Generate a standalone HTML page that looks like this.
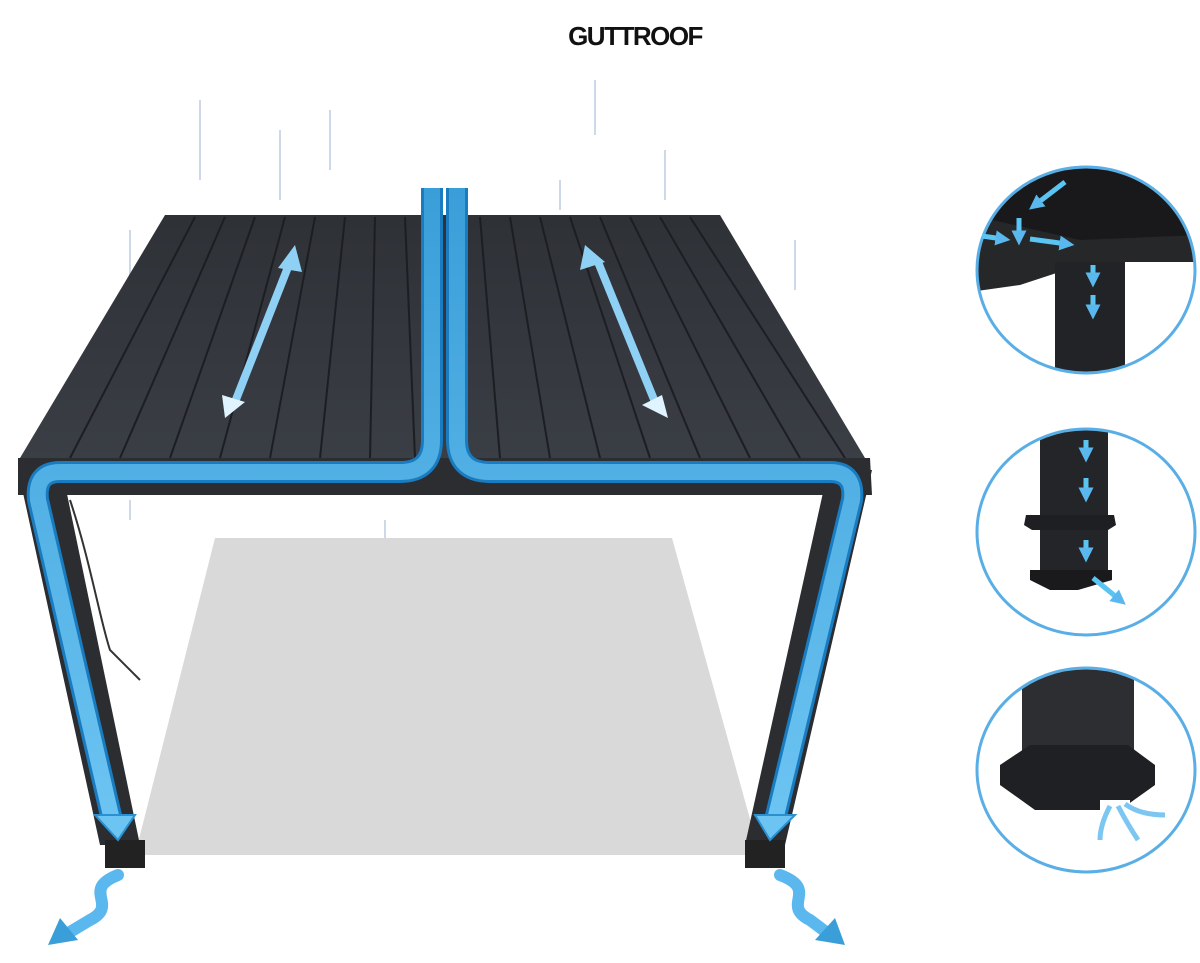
<!DOCTYPE html>
<html><head><meta charset="utf-8"><style>
html,body{margin:0;padding:0;background:#fff}
svg{display:block}
</style></head><body>
<svg width="1200" height="963" viewBox="0 0 1200 963" xmlns="http://www.w3.org/2000/svg">
<defs>
<linearGradient id="roof" x1="0" y1="0" x2="0" y2="1"><stop offset="0" stop-color="#2e3136"/><stop offset="1" stop-color="#3a3e45"/></linearGradient>
<linearGradient id="blue" x1="0" y1="0" x2="0" y2="1"><stop offset="0" stop-color="#3a9ed8"/><stop offset="1" stop-color="#6cc4f2"/></linearGradient>
<clipPath id="c1"><ellipse cx="1086" cy="270" rx="109" ry="103"/></clipPath>
<clipPath id="c2"><ellipse cx="1086" cy="532" rx="109" ry="103"/></clipPath>
<clipPath id="c3"><ellipse cx="1086" cy="770" rx="109" ry="102"/></clipPath>
<marker id="ah" viewBox="0 0 10 10" refX="5" refY="5" markerWidth="3" markerHeight="3" orient="auto"><path d="M0,0L10,5L0,10z" fill="#5ab8ee"/></marker>
</defs>
<text x="635" y="45" text-anchor="middle" font-family="Liberation Sans, sans-serif" font-weight="bold" font-size="26" letter-spacing="-1.5" fill="#111">GUTTROOF</text>
<g stroke="#b8c8e0" stroke-width="2" opacity="0.7">
<line x1="200" y1="100" x2="200" y2="180"/><line x1="330" y1="110" x2="330" y2="170"/><line x1="595" y1="80" x2="595" y2="135"/><line x1="280" y1="130" x2="280" y2="200"/><line x1="665" y1="150" x2="665" y2="200"/><line x1="560" y1="180" x2="560" y2="210"/><line x1="130" y1="230" x2="130" y2="290"/><line x1="795" y1="240" x2="795" y2="290"/><line x1="385" y1="520" x2="385" y2="560"/><line x1="130" y1="500" x2="130" y2="520"/>
</g>
<polygon points="215,538 672,538 760,855 135,855" fill="#d9d9d9"/>
<polygon points="165,215 720,215 865,458 20,458" fill="url(#roof)"/>
<g stroke="#1c1e22" stroke-width="2">
<line x1="195" y1="217" x2="70" y2="458"/><line x1="225" y1="217" x2="120" y2="458"/><line x1="255" y1="217" x2="170" y2="458"/><line x1="285" y1="217" x2="220" y2="458"/><line x1="315" y1="217" x2="270" y2="458"/><line x1="345" y1="217" x2="320" y2="458"/><line x1="375" y1="217" x2="370" y2="458"/><line x1="405" y1="217" x2="415" y2="458"/>
<line x1="480" y1="217" x2="500" y2="458"/><line x1="510" y1="217" x2="550" y2="458"/><line x1="540" y1="217" x2="600" y2="458"/><line x1="570" y1="217" x2="650" y2="458"/><line x1="600" y1="217" x2="700" y2="458"/><line x1="630" y1="217" x2="750" y2="458"/><line x1="660" y1="217" x2="800" y2="458"/><line x1="690" y1="217" x2="845" y2="458"/>
</g>
<polygon points="18,458 870,458 872,495 18,495" fill="#2b2d31"/>
<polygon points="18,470 62,470 140,845 100,845" fill="#2b2d31"/>
<polygon points="828,470 872,470 785,845 745,845" fill="#2b2d31"/>
<rect x="105" y="840" width="40" height="28" fill="#222"/>
<rect x="745" y="840" width="40" height="28" fill="#222"/>
<path d="M70,500 C90,560 100,620 110,650 L140,680" stroke="#333" stroke-width="2" fill="none"/>
<g fill="none" stroke="#1a7cc0" stroke-width="22" stroke-linejoin="round">
<path d="M432,188 L432,440 Q432,472 400,472 L60,472 Q35,472 38,500 L112,820"/>
<path d="M457,188 L457,440 Q457,472 490,472 L830,472 Q855,472 852,500 L775,820"/>
</g>
<g fill="none" stroke="url(#blue)" stroke-width="16" stroke-linejoin="round">
<path d="M432,188 L432,440 Q432,472 400,472 L60,472 Q35,472 38,500 L112,820"/>
<path d="M457,188 L457,440 Q457,472 490,472 L830,472 Q855,472 852,500 L775,820"/>
</g>
<polygon points="95,815 135,815 118,840" fill="#6cc4f2" stroke="#2b8fd0" stroke-width="2"/>
<polygon points="755,815 795,815 770,840" fill="#6cc4f2" stroke="#2b8fd0" stroke-width="2"/>
<g stroke="#8fd0f5" stroke-width="8" fill="none"><line x1="290" y1="262" x2="235" y2="402"/><line x1="598" y1="262" x2="655" y2="402"/></g>
<polygon points="295,245 278,268 302,272" fill="#8fd0f5"/><polygon points="225,418 222,395 245,402" fill="#e0f4ff"/>
<polygon points="585,245 580,270 605,262" fill="#8fd0f5"/><polygon points="668,418 642,405 662,395" fill="#e0f4ff"/>
<g fill="none" stroke="#5ab8ee" stroke-width="12" stroke-linecap="round">
<path d="M118,875 C80,890 120,905 90,920 L65,935"/><path d="M780,875 C820,890 780,905 810,920 L830,935"/>
</g>
<polygon points="48,945 60,918 78,940" fill="#3a9ed8"/><polygon points="845,945 815,940 835,918" fill="#3a9ed8"/>
<!-- circle 1 -->
<g clip-path="url(#c1)">
<rect x="970" y="160" width="230" height="220" fill="#fff"/>
<rect x="970" y="160" width="230" height="95" fill="#19191b"/>
<polygon points="970,215 1080,240 1200,235 1200,262 1120,262 1090,262 1020,285 970,292" fill="#262729"/>
<rect x="1055" y="262" width="70" height="125" fill="#222326"/>
</g>
<ellipse cx="1086" cy="270" rx="109" ry="103" fill="none" stroke="#5aaee6" stroke-width="3"/>
<g stroke="#5ac4f2" stroke-width="5" marker-end="url(#ah)"><line x1="1065" y1="182" x2="1035" y2="205"/><line x1="1019" y1="218" x2="1019" y2="238"/><line x1="982" y1="236" x2="1003" y2="239"/><line x1="1030" y1="239" x2="1067" y2="244"/><line x1="1093" y1="265" x2="1093" y2="280"/><line x1="1093" y1="295" x2="1093" y2="312"/></g>
<!-- circle 2 -->
<g clip-path="url(#c2)">
<rect x="1040" y="420" width="68" height="95" fill="#242528"/>
<polygon points="1026,515 1114,515 1116,525 1108,530 1032,530 1024,525" fill="#1e1f22"/>
<rect x="1040" y="530" width="68" height="45" fill="#242528"/>
<polygon points="1030,570 1112,570 1112,580 1078,590 1050,590 1030,580" fill="#1a1a1c"/>
</g>
<ellipse cx="1086" cy="532" rx="109" ry="103" fill="none" stroke="#5aaee6" stroke-width="3"/>
<g stroke="#5ac4f2" stroke-width="5" marker-end="url(#ah)"><line x1="1086" y1="440" x2="1086" y2="455"/><line x1="1086" y1="478" x2="1086" y2="495"/><line x1="1086" y1="540" x2="1086" y2="555"/><line x1="1093" y1="578" x2="1120" y2="600"/></g>
<!-- circle 3 -->
<g clip-path="url(#c3)">
<rect x="1022" y="660" width="112" height="110" fill="#2c2e32"/>
<polygon points="1000,765 1030,745 1128,745 1155,765 1155,785 1120,810 1035,810 1000,785" fill="#1f2023"/>
<rect x="1100" y="800" width="30" height="12" fill="#fff"/>
</g>
<ellipse cx="1086" cy="770" rx="109" ry="102" fill="none" stroke="#5aaee6" stroke-width="3"/>
<g stroke="#7cc6f2" stroke-width="5" fill="none"><path d="M1110,806 Q1100,825 1100,840"/><path d="M1118,806 Q1128,825 1138,840"/><path d="M1125,804 Q1140,815 1165,815"/></g>
</svg>
</body></html>
